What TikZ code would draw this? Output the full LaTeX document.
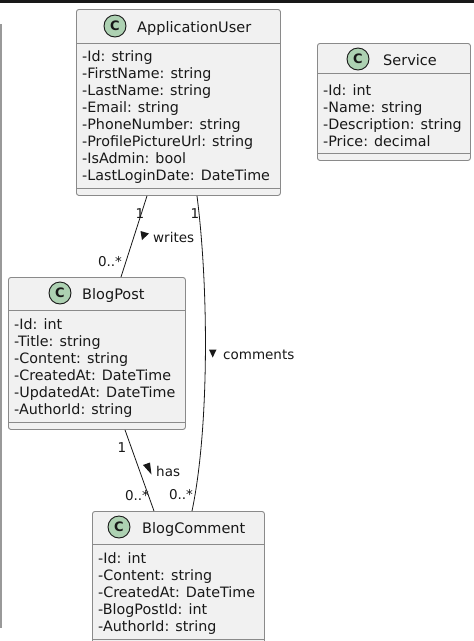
\documentclass[tikz,border=0pt]{standalone}
\usepackage{fontspec}
\setmainfont{DejaVu Sans}
\usetikzlibrary{calc}
\definecolor{boxfill}{HTML}{F1F1F1}
\definecolor{boxline}{HTML}{8A8A8A}
\definecolor{cfill}{HTML}{ADD1B2}
\definecolor{ink}{HTML}{181818}
\begin{document}
\begin{tikzpicture}[x=1pt,y=-1pt,
  classbox/.style={draw=boxline, fill=boxfill, line width=0.9pt, rounded corners=2.5pt, anchor=north west, inner sep=0pt},
  divider/.style={draw=boxline, line width=0.9pt},
  attr/.style={anchor=west, inner sep=0pt, font=\fontsize{14.3}{17}\selectfont, text=ink, text height=12.5pt, text depth=0pt},
  ctitle/.style={anchor=west, inner sep=0pt, font=\fontsize{14.5}{17}\selectfont, text=ink, text height=12.5pt, text depth=0pt},
  cmark/.style={circle, draw=ink, fill=cfill, line width=0.9pt, minimum size=22pt, inner sep=0pt, font=\bfseries\fontsize{13}{13}\selectfont, text=ink},
  lbl/.style={inner sep=0pt, font=\fontsize{13.5}{16}\selectfont, text=ink, text height=12pt, text depth=0pt},
  conn/.style={draw=ink, line width=0.8pt},
  tri/.style={fill=ink, draw=none}]
\useasboundingbox (0,0) rectangle (474,641);
\fill[white] (0,0) rectangle (474,641);
\fill[ink] (0,0) rectangle (474,3);
\fill[black!40] (0,24) rectangle (1.8,628);

% ApplicationUser
\node[classbox, minimum width=204pt, minimum height=186pt] (au) at (76,9) {};
\draw[divider] (76,43) -- (280,43);
\draw[divider] (76,188) -- (280,188);
\node[cmark] (auc) at (115,26) {C};
\node[ctitle] (aut) at (137,26) {ApplicationUser};
\node[attr] (au1) at (82,55) {-Id: string};
\node[attr] (au2) at (82,72) {-FirstName: string};
\node[attr] (au3) at (82,89) {-LastName: string};
\node[attr] (au4) at (82,106) {-Email: string};
\node[attr] (au5) at (82,123) {-PhoneNumber: string};
\node[attr] (au6) at (82,140) {-ProfilePictureUrl: string};
\node[attr] (au7) at (82,157) {-IsAdmin: bool};
\node[attr] (au8) at (82,174) {-LastLoginDate: DateTime};

% Service
\node[classbox, minimum width=153pt, minimum height=117pt] (sv) at (317,43) {};
\draw[divider] (317,73) -- (470,73);
\draw[divider] (317,153) -- (470,153);
\node[cmark] (svc) at (358,59) {C};
\node[ctitle] (svt) at (383,59) {Service};
\node[attr] (sv1) at (323,89) {-Id: int};
\node[attr] (sv2) at (323,106) {-Name: string};
\node[attr] (sv3) at (323,123) {-Description: string};
\node[attr] (sv4) at (323,140) {-Price: decimal};

% BlogPost
\node[classbox, minimum width=177pt, minimum height=152pt] (bp) at (8,277) {};
\draw[divider] (8,310) -- (185,310);
\draw[divider] (8,422) -- (185,422);
\node[cmark] (bpc) at (60,293) {C};
\node[ctitle] (bpt) at (82,293) {BlogPost};
\node[attr] (bp1) at (14,323) {-Id: int};
\node[attr] (bp2) at (14,340) {-Title: string};
\node[attr] (bp3) at (14,357) {-Content: string};
\node[attr] (bp4) at (14,374) {-CreatedAt: DateTime};
\node[attr] (bp5) at (14,391) {-UpdatedAt: DateTime};
\node[attr] (bp6) at (14,408) {-AuthorId: string};

% BlogComment
\node[classbox, minimum width=172pt, minimum height=150pt] (bc) at (92,511) {};
\draw[divider] (92,544) -- (264,544);
\draw[divider] (92,639) -- (264,639);
\node[cmark] (bcc) at (119,527) {C};
\node[ctitle] (bct) at (142,527) {BlogComment};
\node[attr] (bc1) at (98,557) {-Id: int};
\node[attr] (bc2) at (98,574) {-Content: string};
\node[attr] (bc3) at (98,591) {-CreatedAt: DateTime};
\node[attr] (bc4) at (98,608) {-BlogPostId: int};
\node[attr] (bc5) at (98,625) {-AuthorId: string};

% writes
\draw[conn] ($(au.south west)+(71,0)$) -- ($(bp.north west)+(113,0)$);
\node[lbl] (w1) at (140,212) {1};
\node[lbl] (w2) at (110,260) {0..*};
\fill[tri] (140.5,231) -- (149,233.5) -- (142,240) -- cycle;
\node[lbl, anchor=west] (wt) at (153,236) {writes};

% comments
\draw[conn] ($(au.south west)+(121,0)$) .. controls (209,290) and (209,430) .. ($(bc.north west)+(100,0)$);
\node[lbl] (c1) at (195,212) {1};
\node[lbl] (c2) at (181,493) {0..*};
\fill[tri] (209,349.5) -- (216.5,349.5) -- (212.7,357.5) -- cycle;
\node[lbl, anchor=west] (ct) at (223,353) {comments};

% has
\draw[conn] ($(bp.south west)+(117,0)$) -- ($(bc.north west)+(62,0)$);
\node[lbl] (h1) at (122,446) {1};
\node[lbl] (h2) at (137,494) {0..*};
\fill[tri] (150,462.5) -- (151.5,474.5) -- (143,465) -- cycle;
\node[lbl, anchor=west] (ht) at (156,470) {has};
\end{tikzpicture}
\end{document}
